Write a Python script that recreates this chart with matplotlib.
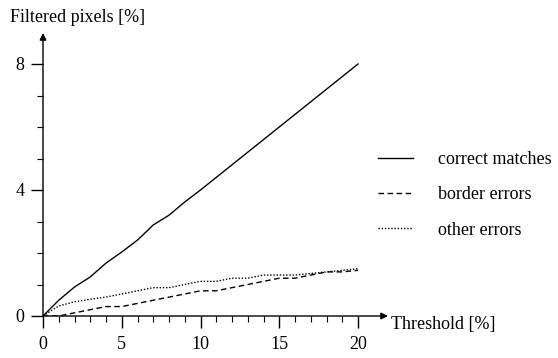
import numpy as np
import matplotlib
matplotlib.use("Agg")
import matplotlib.pyplot as plt

plt.rcParams['font.family'] = ['Liberation Serif', 'DejaVu Serif']

threshold = list(range(0, 21))
correct = [0, 0.5, 0.92, 1.24, 1.68, 2.03, 2.41, 2.89, 3.2, 3.62, 4.0,
           4.4, 4.8, 5.2, 5.6, 6.0, 6.4, 6.8, 7.2, 7.6, 8.0]
border = [0, 0.0, 0.1, 0.2, 0.3, 0.3, 0.4, 0.5, 0.6, 0.7, 0.8,
          0.8, 0.9, 1.0, 1.1, 1.2, 1.2, 1.3, 1.4, 1.4, 1.45]
other = [0, 0.32, 0.45, 0.53, 0.6, 0.7, 0.8, 0.9, 0.9, 1.0, 1.1,
         1.1, 1.2, 1.2, 1.3, 1.3, 1.3, 1.35, 1.4, 1.45, 1.5]
labels = ["correct matches", "border errors", "other errors"]

W, H = 558, 358
fig = plt.figure(figsize=(W / 100, H / 100), dpi=100)
ax = fig.add_axes([43 / W, 1 - 316 / H, 345 / W, 283 / H])

fs = 13
ax.plot(threshold, correct, color='black', lw=1.0, label=labels[0])
ax.plot(threshold, border, color='black', lw=1.0, dashes=(4, 2.5), label=labels[1])
ax.plot(threshold, other, color='black', lw=1.0, dashes=(1, 1.3), label=labels[2])

ax.set_xlim(0, 345 / 15.75)
ax.set_ylim(0, 283 / 31.5)

for s in ax.spines.values():
    s.set_visible(False)

# axes with arrows
ax.annotate('', xy=(1, 0), xytext=(0, 0), xycoords='axes fraction',
            arrowprops=dict(arrowstyle='-|>', color='black', lw=1.0,
                            shrinkA=0, shrinkB=0, mutation_scale=10))
ax.annotate('', xy=(0, 1), xytext=(0, 0), xycoords='axes fraction',
            arrowprops=dict(arrowstyle='-|>', color='black', lw=1.0,
                            shrinkA=0, shrinkB=0, mutation_scale=10))

ax.set_xticks([0, 5, 10, 15, 20])
ax.set_xticks(range(0, 21), minor=True)
ax.set_yticks([0, 4, 8])
ax.set_yticks(range(0, 9), minor=True)
ax.tick_params(which='major', length=8.5, width=1.0, labelsize=fs)
ax.tick_params(which='minor', length=4.5, width=0.8)
ax.tick_params(axis='x', which='major', pad=6)
ax.tick_params(axis='y', which='major', pad=5)

fig.text(10 / W, 1 - 18 / H, "Filtered pixels [%]", fontsize=fs,
         ha='left', va='center')
fig.text(391 / W, 1 - 325 / H, "Threshold [%]", fontsize=fs,
         ha='left', va='center')

ax.legend(loc='center left', bbox_to_anchor=(378 / W, 1 - 195 / H),
          bbox_transform=fig.transFigure, frameon=False, fontsize=fs,
          handlelength=1.95, handletextpad=1.4, labelspacing=1.0,
          borderpad=0, borderaxespad=0)

fig.savefig("out.png", dpi=100)
